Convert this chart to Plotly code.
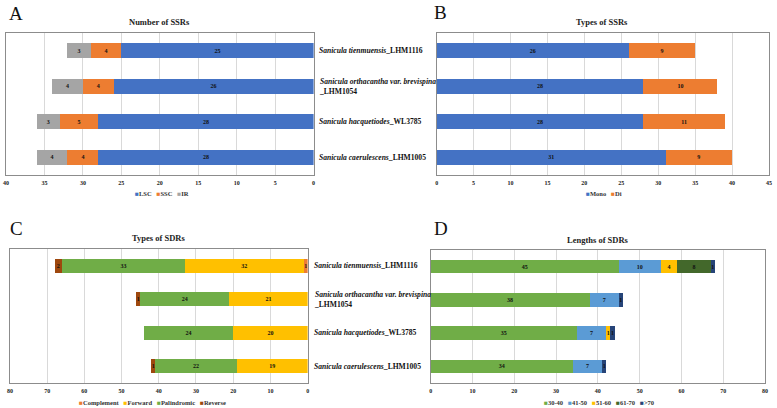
import plotly.graph_objects as go

# ---------------- data ----------------
species = ["tienmuensis", "orthacantha", "hacquetiodes", "caerulescens"]
species_labels = [
    "<b><i>Sanicula tienmuensis</i>_LHM1116</b>",
    "<b><i>Sanicula orthacantha var. brevispina</i></b><br><b>_LHM1054</b>",
    "<b><i>Sanicula hacquetiodes</i>_WL3785</b>",
    "<b><i>Sanicula caerulescens</i>_LHM1005</b>",
]

# A: Number of SSRs
ssr_lsc = [25, 26, 28, 28]
ssr_ssc = [4, 4, 5, 4]
ssr_ir = [3, 4, 3, 4]

# B: Types of SSRs
ssr_mono = [26, 28, 28, 31]
ssr_di = [9, 10, 11, 9]

# C: Types of SDRs
sdr_complement = [1, None, None, None]
sdr_forward = [32, 21, 20, 19]
sdr_palindromic = [33, 24, 24, 22]
sdr_reverse = [2, 1, None, 1]

# D: Lengths of SDRs
len_30_40 = [45, 38, 35, 34]
len_41_50 = [10, 7, 7, 7]
len_51_60 = [4, None, 1, None]
len_61_70 = [8, None, None, None]
len_gt70 = [1, 1, 1, 1]

W, H = 777, 408
SERIF = "Liberation Serif, Times New Roman, serif"


def px_x(p):
    return p / W


def px_y(p):
    return 1 - p / H


fig = go.Figure()


def add_bars(values, name, color, xa, ya):
    text = ["" if v is None else str(v) for v in values]
    fig.add_trace(go.Bar(
        x=values, y=species, orientation="h", name=name,
        marker=dict(color=color, line=dict(width=0)),
        text=text, textposition="inside", insidetextanchor="middle",
        textangle=0,
        textfont=dict(family=SERIF, size=6, color="#111111", weight="bold"),
        xaxis=xa, yaxis=ya, showlegend=False, hoverinfo="skip",
    ))


# A
add_bars(ssr_lsc, "LSC", "#4472C4", "x", "y")
add_bars(ssr_ssc, "SSC", "#ED7D31", "x", "y")
add_bars(ssr_ir, "IR", "#A5A5A5", "x", "y")
# B
add_bars(ssr_mono, "Mono", "#4472C4", "x2", "y2")
add_bars(ssr_di, "Di", "#ED7D31", "x2", "y2")
# C
add_bars(sdr_complement, "Complement", "#ED7D31", "x3", "y3")
add_bars(sdr_forward, "Forward", "#FFC000", "x3", "y3")
add_bars(sdr_palindromic, "Palindromic", "#70AD47", "x3", "y3")
add_bars(sdr_reverse, "Reverse", "#9E480E", "x3", "y3")
# D
add_bars(len_30_40, "30-40", "#70AD47", "x4", "y4")
add_bars(len_41_50, "41-50", "#5B9BD5", "x4", "y4")
add_bars(len_51_60, "51-60", "#FFC000", "x4", "y4")
add_bars(len_61_70, "61-70", "#43682B", "x4", "y4")
add_bars(len_gt70, ">70", "#264478", "x4", "y4")

LINE = "#8c8c8c"
GRID = "#d9d9d9"
tickfont = dict(family=SERIF, size=6, color="#222222", weight="bold")


def xaxis(domain, rng, dtick, anchor):
    return dict(domain=domain, range=rng, dtick=dtick, tick0=0, anchor=anchor,
                showgrid=True, gridcolor=GRID, gridwidth=1, zeroline=False,
                showline=True, linecolor=LINE, linewidth=1, mirror=True,
                ticks="", tickfont=tickfont, ticklabelstandoff=2, fixedrange=True)


def yaxis(domain, anchor):
    return dict(domain=domain, anchor=anchor, type="category",
                categoryorder="array", categoryarray=species, autorange="reversed",
                showticklabels=False, showgrid=False, zeroline=False,
                showline=True, linecolor=LINE, linewidth=1, mirror=True,
                ticks="", fixedrange=True)


top_y = [px_y(175), px_y(33)]
bot_y = [px_y(383), px_y(249)]

fig.update_layout(
    width=W, height=H,
    margin=dict(l=0, r=0, t=0, b=0),
    paper_bgcolor="white", plot_bgcolor="white",
    barmode="stack", bargap=0.59,
    showlegend=False,
    uniformtext=dict(minsize=6, mode="show"),
    xaxis=xaxis([px_x(3), px_x(313)], [40, 0], 5, "y"),
    yaxis=yaxis(top_y, "x"),
    xaxis2=xaxis([px_x(437), px_x(772)], [0, 45], 5, "y2"),
    yaxis2=yaxis(top_y, "x2"),
    xaxis3=xaxis([px_x(7), px_x(307)], [80, 0], 10, "y3"),
    yaxis3=yaxis(bot_y, "x3"),
    xaxis4=xaxis([px_x(431), px_x(768)], [0, 80], 10, "y4"),
    yaxis4=yaxis([px_y(383), px_y(250)], "x4"),
)

ann = []
# panel letters
for letter, x, y in [("A", 4, 13), ("B", 432, 12), ("C", 5, 228), ("D", 432, 228)]:
    ann.append(dict(text=letter, x=px_x(x), y=px_y(y), xref="paper", yref="paper",
                    xanchor="left", yanchor="middle", showarrow=False,
                    font=dict(family=SERIF, size=19, color="#111111")))
# titles
for t, x, y in [("Number of SSRs", 158, 22), ("Types of SSRs", 604, 22),
                ("Types of SDRs", 157, 238), ("Lengths of SDRs", 600, 240)]:
    ann.append(dict(text="<b>" + t + "</b>", x=px_x(x), y=px_y(y), xref="paper", yref="paper",
                    xanchor="center", yanchor="middle", showarrow=False,
                    font=dict(family=SERIF, size=8.5, color="#222222")))
# species labels
for yref, xleft in [("y", 316), ("y3", 311)]:
    for s, lab in zip(species, species_labels):
        ann.append(dict(text=lab, x=px_x(xleft), y=s, xref="paper", yref=yref,
                        xanchor="left", yanchor="middle", align="left", showarrow=False,
                        font=dict(family=SERIF, size=7.6, color="#111111")))


def legend_text(items):
    parts = []
    for name, color in items:
        parts.append('<span style="color:%s">■</span><b>%s</b>' % (color, name))
    return "   ".join(parts)


legends = [
    ([("LSC", "#4472C4"), ("SSC", "#ED7D31"), ("IR", "#A5A5A5")], 160, 193),
    ([("Mono", "#4472C4"), ("Di", "#ED7D31")], 606, 193),
    ([("Complement", "#ED7D31"), ("Forward", "#FFC000"), ("Palindromic", "#70AD47"),
      ("Reverse", "#9E480E")], 151, 402),
    ([("30-40", "#70AD47"), ("41-50", "#5B9BD5"), ("51-60", "#FFC000"),
      ("61-70", "#43682B"), (">70", "#264478")], 601, 402),
]
for items, x, y in legends:
    ann.append(dict(text=legend_text(items), x=px_x(x), y=px_y(y), xref="paper", yref="paper",
                    xanchor="center", yanchor="middle", showarrow=False,
                    font=dict(family=SERIF, size=6.5, color="#333333")))

fig.update_layout(annotations=ann)
fig.write_html(
    "out.html",
    config={"displayModeBar": False},
    post_script="document.body.style.margin='0';document.body.style.overflow='hidden';",
)
